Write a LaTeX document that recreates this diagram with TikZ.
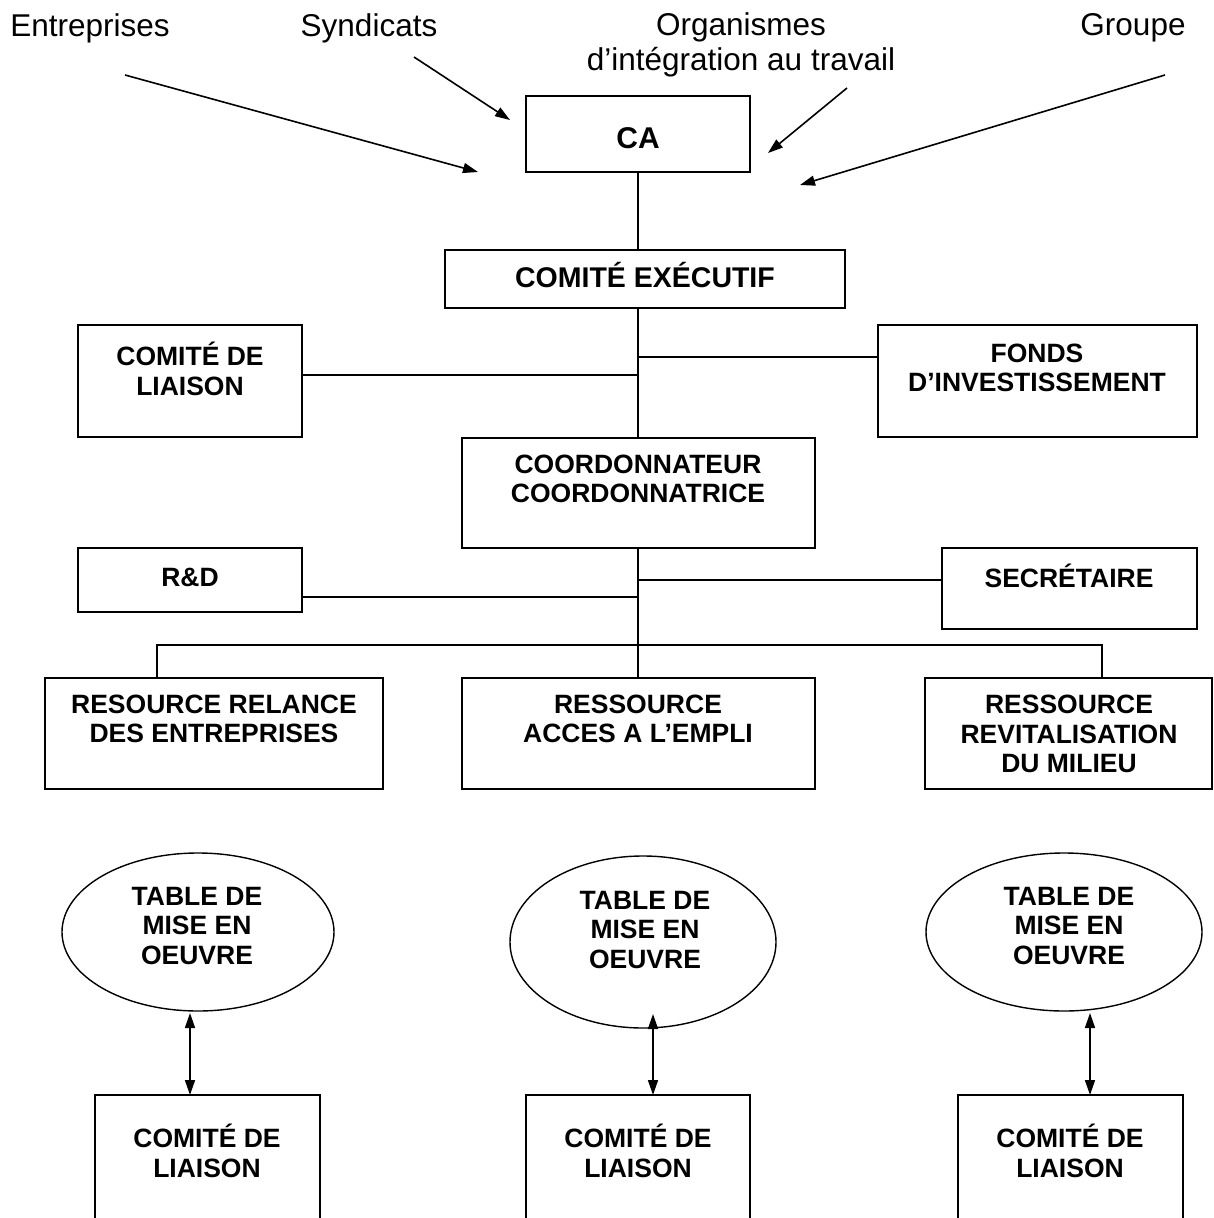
\documentclass[tikz,border=0pt]{standalone}
\usepackage{fontspec}
\setmainfont{Liberation Sans}
\usetikzlibrary{arrows.meta,shapes.geometric}
\tikzset{
  box/.style={draw, line width=1.6pt, inner sep=0pt, outer sep=0pt, anchor=north west},
  oval/.style={draw, ellipse, line width=1.4pt, inner sep=0pt, outer sep=0pt},
  blbl/.style={font=\fontsize{26.5}{29.5}\selectfont\bfseries, align=center, inner sep=0pt},
  rlbl/.style={font=\fontsize{31.5}{35}\selectfont, align=center, inner sep=0pt},
  conn/.style={line width=1.6pt},
  arr/.style={line width=1.6pt, -{Triangle[length=15pt,width=10pt]}},
  dbl/.style={line width=1.6pt, {Triangle[length=15pt,width=10pt]}-{Triangle[length=15pt,width=10pt]}}
}
\begin{document}
\begin{tikzpicture}[x=1pt,y=-1pt]
\useasboundingbox (0,0) rectangle (1214,1218);
\clip (0,0) rectangle (1214,1218);
\fill[white] (0,0) rectangle (1214,1218);

% top labels
\node[rlbl] (ent) at (90,28) {Entreprises};
\node[rlbl] (syn) at (369,28) {Syndicats};
\node[rlbl] (org) at (741,45) {Organismes\\d’intégration au travail};
\node[rlbl] (grp) at (1133,28) {Groupe};

% boxes
\node[box, minimum width=224pt, minimum height=76pt] (ca) at (526,96) {};
\node[box, minimum width=400pt, minimum height=58pt] (ce) at (445,250) {};
\node[box, minimum width=224pt, minimum height=112pt] (cdl) at (78,325) {};
\node[box, minimum width=319pt, minimum height=112pt] (fonds) at (878,325) {};
\node[box, minimum width=353pt, minimum height=110pt] (coord) at (462,438) {};
\node[box, minimum width=224pt, minimum height=64pt] (rd) at (78,548) {};
\node[box, minimum width=255pt, minimum height=81pt] (sec) at (942,548) {};
\node[box, minimum width=338pt, minimum height=111pt] (r1) at (45,678) {};
\node[box, minimum width=353pt, minimum height=111pt] (r2) at (462,678) {};
\node[box, minimum width=287pt, minimum height=111pt] (r3) at (925,678) {};
\node[box, minimum width=225pt, minimum height=160pt] (b1) at (95,1095) {};
\node[box, minimum width=224pt, minimum height=160pt] (b2) at (526,1095) {};
\node[box, minimum width=225pt, minimum height=160pt] (b3) at (958,1095) {};

% ellipses
\node[oval, minimum width=272pt, minimum height=158pt] (e1) at (198,932) {};
\node[oval, minimum width=266pt, minimum height=172pt] (e2) at (643,942) {};
\node[oval, minimum width=276pt, minimum height=158pt] (e3) at (1064,932) {};

% texts
\node[blbl, font=\fontsize{30}{32}\selectfont\bfseries] (tca) at (638,138) {CA};
\node[blbl, font=\fontsize{28.5}{31}\selectfont\bfseries] (tce) at (645,275) {COMITÉ EXÉCUTIF};
\node[blbl] (tcdl) at (190,369) {COMITÉ DE\\LIAISON};
\node[blbl] (tfonds) at (1037,368) {FONDS\\D’INVESTISSEMENT};
\node[blbl] (tcoord) at (638,479) {COORDONNATEUR\\COORDONNATRICE};
\node[blbl] (trd) at (190,577) {R\&D};
\node[blbl] (tsec) at (1069,576) {SECRÉTAIRE};
\node[blbl] (tr1) at (214,719) {RESOURCE RELANCE\\DES ENTREPRISES};
\node[blbl] (tr2) at (638,719) {RESSOURCE\\ACCES A L’EMPLI};
\node[blbl] (tr3) at (1069,734) {RESSOURCE\\REVITALISATION\\DU MILIEU};
\node[blbl] (te1) at (197,926) {TABLE DE\\MISE EN\\OEUVRE};
\node[blbl] (te2) at (645,930) {TABLE DE\\MISE EN\\OEUVRE};
\node[blbl] (te3) at (1069,926) {TABLE DE\\MISE EN\\OEUVRE};
\node[blbl] (tb1) at (207,1151) {COMITÉ DE\\LIAISON};
\node[blbl] (tb2) at (638,1151) {COMITÉ DE\\LIAISON};
\node[blbl] (tb3) at (1070,1151) {COMITÉ DE\\LIAISON};

% top arrows
\coordinate (sE) at (125,75);  \coordinate (eE) at (478,172);
\coordinate (sS) at (414,57);  \coordinate (eS) at (510,120);
\coordinate (sO) at (847,88);  \coordinate (eO) at (768,153);
\coordinate (sG) at (1165,75); \coordinate (eG) at (800,185);
\draw[arr] (sE) -- (eE);
\draw[arr] (sS) -- (eS);
\draw[arr] (sO) -- (eO);
\draw[arr] (sG) -- (eG);

% trunk
\coordinate (tx) at (638,0);
\draw[conn] (tx |- ca.south) -- (tx |- ce.north);
\draw[conn] (tx |- ce.south) -- (tx |- coord.north);
\coordinate (j1) at (638,375);
\coordinate (j2) at (638,357);
\draw[conn] (cdl.east |- j1) -- (j1);
\draw[conn] (j2) -- (fonds.west |- j2);
\draw[conn] (tx |- coord.south) -- (tx |- r2.north);
\coordinate (j3) at (638,597);
\coordinate (j4) at (638,580);
\draw[conn] (rd.east |- j3) -- (j3);
\draw[conn] (j4) -- (sec.west |- j4);
% bus
\coordinate (bl) at (157,645);
\coordinate (br) at (1102,645);
\draw[conn] (bl |- r1.north) -- (bl) -- (br) -- (br |- r3.north);

% double arrows
\coordinate (a1) at (190,0);
\coordinate (a2) at (653,0);
\coordinate (a3) at (1090,0);
\draw[dbl] ([yshift=-2pt]a1 |- e1.south) -- (a1 |- b1.north);
\draw[dbl] ([yshift=14pt]a2 |- e2.south) -- (a2 |- b2.north);
\draw[dbl] ([yshift=-2pt]a3 |- e3.south) -- (a3 |- b3.north);
\end{tikzpicture}
\end{document}
